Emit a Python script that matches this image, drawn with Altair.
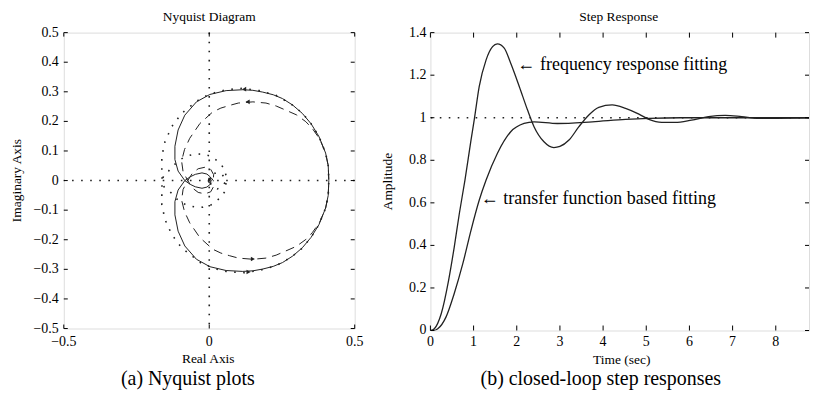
import altair as alt
import pandas as pd

FONT = "Liberation Serif"
INK = "#222222"

# ---------------- Nyquist diagram ----------------
# branch drawn through the upper half first (ends spiralling into the origin)
solid_up_re = [0.411, 0.409, 0.400, 0.377, 0.350, 0.320, 0.287, 0.252, 0.220, 0.184, 0.150, 0.115, 0.058, 0.002,
               -0.044, -0.084, -0.107, -0.118, -0.118, -0.107, -0.084, -0.065, -0.048, -0.025, -0.008, 0.004,
               0.006, 0.000, -0.004, -0.002, 0.000]
solid_up_im = [0.000, 0.050, 0.093, 0.149, 0.192, 0.227, 0.255, 0.277, 0.290, 0.299, 0.305, 0.307, 0.304, 0.291,
               0.266, 0.221, 0.171, 0.116, 0.071, 0.032, 0.000, -0.013, -0.021, -0.026, -0.022, -0.012,
               0.000, 0.006, 0.002, -0.002, 0.000]
# mirror branch (through the lower half)
solid_lo_re = solid_up_re
solid_lo_im = [0.000, -0.050, -0.093, -0.149, -0.192, -0.227, -0.255, -0.277, -0.290, -0.299, -0.305, -0.307, -0.304,
               -0.291, -0.266, -0.221, -0.171, -0.116, -0.071, -0.032, 0.000, 0.013, 0.021, 0.026, 0.022, 0.012,
               0.000, -0.006, -0.002, 0.002, 0.000]

dashed_up_re = [0.411, 0.409, 0.400, 0.380, 0.355, 0.332, 0.300, 0.263, 0.230, 0.195, 0.150, 0.100, 0.070, 0.040,
                0.012, -0.032, -0.067, -0.085, -0.095, -0.090, -0.075, -0.058, -0.038, -0.015, 0.005, 0.015,
                0.014, 0.006, -0.002, 0.000]
dashed_up_im = [0.000, 0.050, 0.093, 0.140, 0.175, 0.199, 0.222, 0.238, 0.252, 0.262, 0.266, 0.262, 0.254, 0.245,
                0.232, 0.193, 0.143, 0.105, 0.066, 0.030, 0.002, -0.025, -0.040, -0.045, -0.038, -0.020,
                0.000, 0.010, 0.006, 0.000]
dashed_lo_re = dashed_up_re
dashed_lo_im = [0.000, -0.050, -0.093, -0.140, -0.175, -0.199, -0.222, -0.238, -0.252, -0.262, -0.266, -0.262,
                -0.254, -0.245, -0.232, -0.193, -0.143, -0.105, -0.066, -0.030, -0.002, 0.025, 0.040, 0.045,
                0.038, 0.020, 0.000, -0.010, -0.006, 0.000]

dotted_up_re = [0.411, 0.409, 0.400, 0.377, 0.350, 0.320, 0.280, 0.229, 0.172, 0.115, 0.058, 0.025, -0.027, -0.067,
                -0.095, -0.129, -0.152, -0.163, -0.163, -0.162, -0.155, -0.140, -0.123, -0.107, -0.078, -0.050,
                -0.022, 0.007, 0.036, 0.053, 0.058, 0.055, 0.045, 0.028, 0.012, 0.004, 0.000]
dotted_up_im = [0.000, 0.050, 0.093, 0.149, 0.192, 0.228, 0.260, 0.288, 0.304, 0.312, 0.307, 0.299, 0.280, 0.249,
                0.227, 0.182, 0.132, 0.082, 0.038, 0.000, -0.022, -0.032, -0.050, -0.067, -0.083, -0.089,
                -0.090, -0.082, -0.060, -0.038, -0.015, 0.005, 0.020, 0.028, 0.022, 0.010, 0.000]
dotted_lo_re = dotted_up_re
dotted_lo_im = [0.000, -0.050, -0.093, -0.149, -0.192, -0.228, -0.260, -0.288, -0.304, -0.312, -0.307, -0.299,
                -0.280, -0.249, -0.227, -0.182, -0.132, -0.082, -0.038, 0.000, 0.022, 0.032, 0.050, 0.067, 0.083,
                0.089, 0.090, 0.082, 0.060, 0.038, 0.015, -0.005, -0.020, -0.028, -0.022, -0.010, 0.000]

arrow_re = [0.120, 0.135, 0.132, 0.150]
arrow_im = [0.309, -0.309, 0.266, -0.265]
arrow_shape = ["triangle-left", "triangle-right", "triangle-left", "triangle-right"]

nyq_xticks = [-0.5, 0, 0.5]
nyq_xlabels = ["\u22120.5", "0", "0.5"]
nyq_yticks = [-0.5, -0.4, -0.3, -0.2, -0.1, 0, 0.1, 0.2, 0.3, 0.4, 0.5]
nyq_ylabels = ["\u22120.5", "\u22120.4", "\u22120.3", "\u22120.2", "\u22120.1", "0",
               "0.1", "0.2", "0.3", "0.4", "0.5"]
nyq_zero = [0]

# ---------------- Step response ----------------
freq_t = [0.00, 0.03, 0.09, 0.25, 0.42, 0.55, 0.67, 0.80, 0.94, 1.02, 1.13, 1.29, 1.44, 1.55, 1.71, 1.86, 2.06,
          2.25, 2.40, 2.63, 2.86, 3.00, 3.21, 3.44, 3.67, 3.90, 4.21, 4.52, 4.83, 5.06, 5.36, 5.67, 6.05, 6.44,
          6.83, 7.21, 7.60, 8.37, 9.00]
freq_y = [0.000, 0.000, 0.008, 0.079, 0.235, 0.390, 0.550, 0.707, 0.895, 0.997, 1.146, 1.272, 1.334, 1.347, 1.327,
          1.256, 1.146, 1.036, 0.958, 0.887, 0.860, 0.865, 0.895, 0.958, 1.013, 1.049, 1.060, 1.044, 1.017, 0.992,
          0.978, 0.978, 0.989, 1.005, 1.011, 1.005, 0.997, 0.998, 1.000]
tf_t = [0.00, 0.08, 0.17, 0.36, 0.55, 0.75, 0.94, 1.13, 1.29, 1.55, 1.86, 2.17, 2.40, 2.94, 3.75, 4.52, 5.06,
        5.80, 9.00]
tf_y = [0.000, 0.000, 0.008, 0.063, 0.173, 0.314, 0.471, 0.612, 0.707, 0.832, 0.934, 0.973, 0.981, 0.973, 0.981,
        0.992, 0.997, 1.000, 1.000]
step_level = [1]
ann_t = [2.02, 1.17]
ann_y = [1.25, 0.62]
ann_text = ["\u2190 frequency response fitting", "\u2190 transfer function based fitting"]
step_xticks = [0, 1, 2, 3, 4, 5, 6, 7, 8]
step_xlabels = ["0", "1", "2", "3", "4", "5", "6", "7", "8"]
step_yticks = [0, 0.2, 0.4, 0.6, 0.8, 1, 1.2, 1.4]
step_ylabels = ["0", "0.2", "0.4", "0.6", "0.8", "1", "1.2", "1.4"]
step_tmax = 8.77   # the page edge cuts the panel before t = 9

# ---------------- layout constants ----------------
W1, H1 = 292, 297
W2, H2 = 380, 299
TICK = 4


def txt(size, **kw):
    return dict(font=FONT, fontSize=size, color="black", **kw)


def label_layer(text, x, y, size, angle=0, align="center", baseline="middle"):
    d = pd.DataFrame({"s": [text]})
    m = alt.Chart(d).mark_text(angle=angle, **txt(size, align=align, baseline=baseline))
    return m.encode(text="s:N", x=alt.value(x), y=alt.value(y))


def build_path(up_re, up_im, lo_re, lo_im):
    re = list(reversed(up_re)) + list(lo_re)
    im = list(reversed(up_im)) + list(lo_im)
    return pd.DataFrame({"re": re, "im": im, "k": range(len(re))})


# ================= left panel: Nyquist =================
xs1 = alt.Scale(domain=[-0.5, 0.5], nice=False, zero=False)
ys1 = alt.Scale(domain=[-0.5, 0.5], nice=False, zero=False)
RX = alt.X("re:Q", scale=xs1, axis=None)
IY = alt.Y("im:Q", scale=ys1, axis=None)

nyq_solid = build_path(solid_up_re, solid_up_im, solid_lo_re, solid_lo_im)
nyq_dashed = build_path(dashed_up_re, dashed_up_im, dashed_lo_re, dashed_lo_im)
nyq_dotted = build_path(dotted_up_re, dotted_up_im, dotted_lo_re, dotted_lo_im)
arrows = pd.DataFrame({"re": arrow_re, "im": arrow_im, "shape": arrow_shape})
DOT = [1.6, 7.5]

solid_l = alt.Chart(nyq_solid).mark_line(color=INK, strokeWidth=1).encode(x=RX, y=IY, order="k:Q")
dashed_l = alt.Chart(nyq_dashed).mark_line(color=INK, strokeWidth=1, strokeDash=[9, 6]).encode(
    x=RX, y=IY, order="k:Q")
dotted_l = alt.Chart(nyq_dotted).mark_line(color=INK, strokeWidth=1.6, strokeDash=DOT).encode(
    x=RX, y=IY, order="k:Q")
arrow_l = alt.Chart(arrows).mark_point(filled=True, size=22, color=INK, opacity=1).encode(
    x=RX, y=IY, shape=alt.Shape("shape:N", scale=None))

zero_df = pd.DataFrame({"re": nyq_zero, "im": nyq_zero})
vzero = alt.Chart(zero_df).mark_rule(color=INK, strokeWidth=1.6, strokeDash=DOT).encode(x=RX)
hzero = alt.Chart(zero_df).mark_rule(color=INK, strokeWidth=1.6, strokeDash=DOT).encode(y=IY)

yt1 = pd.DataFrame({"im": nyq_yticks, "lab": nyq_ylabels})
xt1 = pd.DataFrame({"re": nyq_xticks, "lab": nyq_xlabels})
left_ticks = [
    alt.Chart(yt1).mark_rule(color="black").encode(y=IY, x=alt.value(0), x2=alt.value(TICK)),
    alt.Chart(yt1).mark_rule(color="black").encode(y=IY, x=alt.value(W1 - TICK), x2=alt.value(W1)),
    alt.Chart(xt1).mark_rule(color="black").encode(x=RX, y=alt.value(0), y2=alt.value(TICK)),
    alt.Chart(xt1).mark_rule(color="black").encode(x=RX, y=alt.value(H1 - TICK), y2=alt.value(H1)),
    alt.Chart(yt1).mark_text(**txt(14, align="right", baseline="middle", dx=-5)).encode(
        y=IY, x=alt.value(0), text="lab:N"),
    alt.Chart(xt1).mark_text(**txt(14, align="center", baseline="alphabetic")).encode(
        x=RX, y=alt.value(H1 + 18), text="lab:N"),
]
left_text = [
    label_layer("Nyquist Diagram", 146, -16, 13.5),
    label_layer("Real Axis", 145, H1 + 35, 13.5, baseline="alphabetic"),
    label_layer("Imaginary Axis", -47, H1 / 2, 13.5, angle=270),
    label_layer("(a) Nyquist plots", 124.5, 348, 20),
]

left = alt.layer(solid_l, vzero, hzero, dotted_l, dashed_l, arrow_l, *left_ticks, *left_text).properties(
    width=W1, height=H1)

# ================= right panel: step response =================
xs2 = alt.Scale(domain=[0, step_tmax], nice=False, zero=False)
ys2 = alt.Scale(domain=[0, 1.4], nice=False, zero=False)
TX = alt.X("t:Q", scale=xs2, axis=None)
AY = alt.Y("y:Q", scale=ys2, axis=None)

freq_df = pd.DataFrame({"t": freq_t, "y": freq_y})
tf_df = pd.DataFrame({"t": tf_t, "y": tf_y})
freq_line = alt.Chart(freq_df).mark_line(color=INK, strokeWidth=1.3, interpolate="monotone", clip=True).encode(
    x=TX, y=AY)
tf_line = alt.Chart(tf_df).mark_line(color=INK, strokeWidth=1.3, interpolate="monotone", clip=True).encode(
    x=TX, y=AY)
level = alt.Chart(pd.DataFrame({"y": step_level})).mark_rule(
    color=INK, strokeWidth=1.6, strokeDash=[1.6, 7.4]).encode(y=AY)
ann = alt.Chart(pd.DataFrame({"t": ann_t, "y": ann_y, "s": ann_text})).mark_text(
    **txt(18, align="left", baseline="middle")).encode(x=TX, y=AY, text="s:N")

yt2 = pd.DataFrame({"y": step_yticks, "lab": step_ylabels})
xt2 = pd.DataFrame({"t": step_xticks, "lab": step_xlabels})
right_ticks = [
    alt.Chart(yt2).mark_rule(color="black").encode(y=AY, x=alt.value(0), x2=alt.value(TICK)),
    alt.Chart(yt2).mark_rule(color="black").encode(y=AY, x=alt.value(W2 - TICK), x2=alt.value(W2)),
    alt.Chart(xt2).mark_rule(color="black").encode(x=TX, y=alt.value(0), y2=alt.value(TICK + 1)),
    alt.Chart(xt2).mark_rule(color="black").encode(x=TX, y=alt.value(H2 - TICK - 1), y2=alt.value(H2)),
    alt.Chart(yt2).mark_text(**txt(14, align="right", baseline="middle", dx=-4)).encode(
        y=AY, x=alt.value(0), text="lab:N"),
    alt.Chart(xt2).mark_text(**txt(14, align="center", baseline="alphabetic")).encode(
        x=TX, y=alt.value(H2 + 16), text="lab:N"),
]
right_text = [
    label_layer("Step Response", 189, -16, 13.5),
    label_layer("Time (sec)", 192, H2 + 34, 13.5, baseline="alphabetic"),
    label_layer("Amplitude", -43, H2 / 2, 13.5, angle=270),
    label_layer("(b) closed-loop step responses", 171, 348, 20),
]

right = alt.layer(freq_line, level, tf_line, ann, *right_ticks, *right_text).properties(
    width=W2, height=H2)

chart = alt.hconcat(left, right, spacing=76, bounds="flush").properties(
    padding={"left": 1, "top": 0, "right": 0, "bottom": 0}
).configure_view(stroke="black", strokeWidth=1.2).configure(background="white")

chart.save("out.html", embed_options={"renderer": "svg", "actions": False})
